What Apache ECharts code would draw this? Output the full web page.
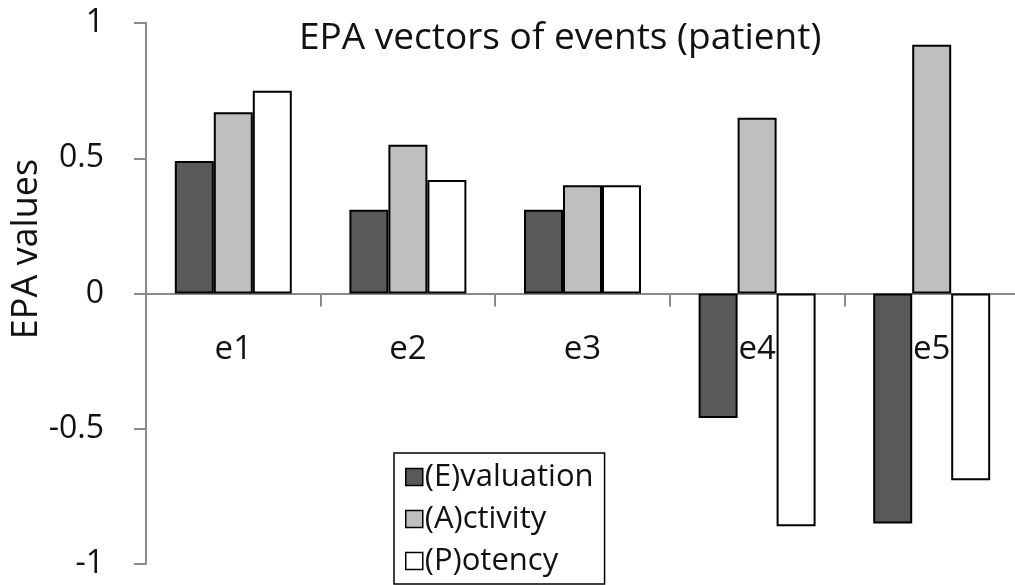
<!DOCTYPE html>
<html>
<head>
<meta charset="utf-8">
<script src="https://cdn.jsdelivr.net/npm/echarts@6/dist/echarts.min.js"></script>
<style>
  html, body { margin: 0; padding: 0; background: #fff; }
  #chart { width: 1015px; height: 585px; }
</style>
</head>
<body>
<div id="chart"></div>
<script>
// Events on the category axis
const categories = ['e1', 'e2', 'e3', 'e4', 'e5'];
// EPA scores per event
const evaluation = [0.49, 0.31, 0.31, -0.46, -0.85];
const activity   = [0.67, 0.55, 0.40, 0.65, 0.92];
const potency    = [0.75, 0.42, 0.40, -0.86, -0.69];
// Value-axis ticks
const yTicks = { min: -1, max: 1, step: 0.5 };

const FONT = '"Open Sans", Lato, sans-serif';
const AXIS_GREY = '#8a8a8a';

// Plot box (px); the category labels sit just under the zero line
const GRID = { left: 146, right: -4, top: 23, bottom: 21 };
const CHART_H = 585;

const chart = echarts.init(document.getElementById('chart'), null, { renderer: 'canvas' });

function barSeries(name, data, fill) {
  return {
    name: name,
    type: 'bar',
    data: data,
    barGap: '0%',
    barCategoryGap: '33%',
    itemStyle: { color: fill, borderColor: '#000', borderWidth: 2 },
    emphasis: { disabled: true },
    animation: false
  };
}

// Distance from the bottom of the plot up to y = 0, so labels hang below the zero line
const plotH = CHART_H - GRID.top - GRID.bottom;
const zeroFromBottom = plotH * (0 - yTicks.min) / (yTicks.max - yTicks.min);

chart.setOption({
  backgroundColor: '#fff',
  animation: false,
  title: {
    text: 'EPA vectors of events (patient)',
    left: 294,
    top: 15,
    textStyle: { fontFamily: FONT, fontSize: 37, fontWeight: 'normal', color: '#111' }
  },
  legend: {
    orient: 'vertical',
    left: 394,
    top: 453,
    padding: [6, 11, 5, 11],
    itemGap: 6,
    itemWidth: 17,
    itemHeight: 17,
    icon: 'rect',
    borderColor: '#000',
    borderWidth: 1.5,
    backgroundColor: '#fff',
    textStyle: { fontFamily: FONT, fontSize: 31, color: '#111', lineHeight: 36, padding: [0, 0, 0, -3] },
    itemStyle: { borderColor: '#000', borderWidth: 1.5 },
    data: ['(E)valuation', '(A)ctivity', '(P)otency']
  },
  grid: Object.assign({ containLabel: false, outerBoundsMode: 'none' }, GRID),
  xAxis: {
    type: 'category',
    data: categories,
    axisLine: { onZero: true, lineStyle: { color: AXIS_GREY, width: 2 } },
    axisTick: { show: true, alignWithLabel: false, length: 13, lineStyle: { color: AXIS_GREY, width: 2 } },
    axisLabel: { margin: 40 - zeroFromBottom, fontFamily: FONT, fontSize: 33, color: '#111' },
    splitLine: { show: false }
  },
  yAxis: {
    type: 'value',
    min: yTicks.min,
    max: yTicks.max,
    interval: yTicks.step,
    axisLine: { show: true, lineStyle: { color: AXIS_GREY, width: 2 } },
    axisTick: { show: true, length: 12, lineStyle: { color: AXIS_GREY, width: 2 } },
    axisLabel: { margin: 42, fontFamily: FONT, fontSize: 32, color: '#111' },
    splitLine: { show: false }
  },
  graphic: [{
    type: 'text',
    x: 27,
    y: 249,
    rotation: Math.PI / 2,
    style: {
      text: 'EPA values',
      font: '36px ' + FONT,
      fill: '#111',
      align: 'center',
      verticalAlign: 'middle'
    }
  }],
  series: [
    barSeries('(E)valuation', evaluation, '#595959'),
    barSeries('(A)ctivity', activity, '#bfbfbf'),
    barSeries('(P)otency', potency, '#ffffff')
  ]
});
</script>
</body>
</html>
